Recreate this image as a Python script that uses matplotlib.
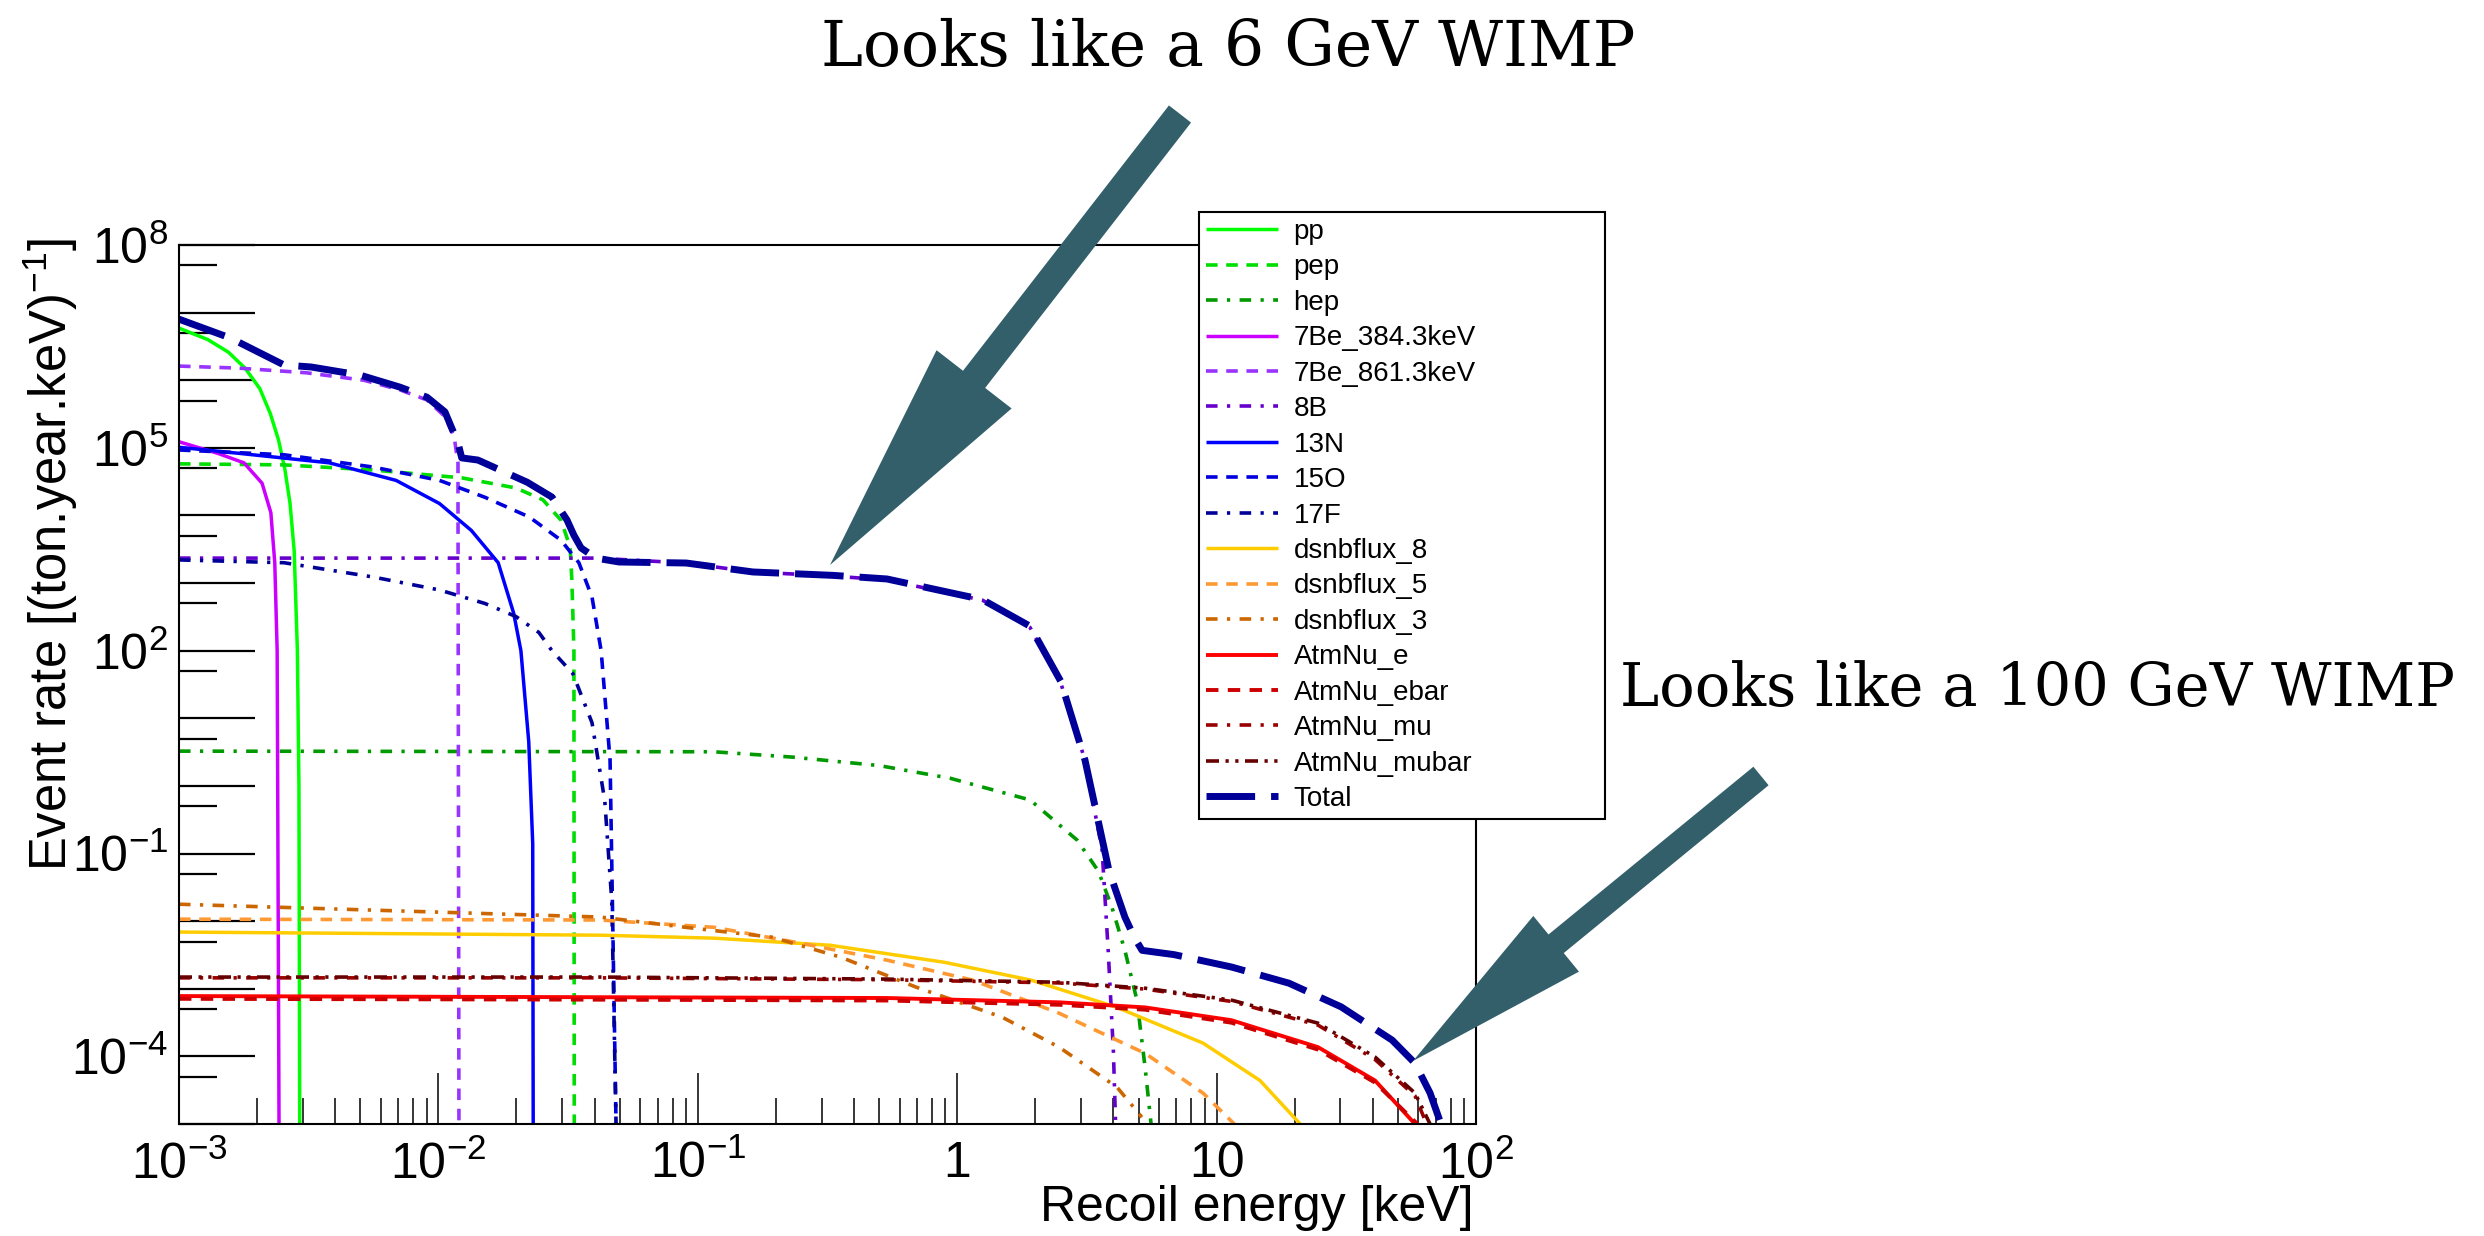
import matplotlib
matplotlib.use('Agg')
import matplotlib.pyplot as plt
import numpy as np
from matplotlib.patches import FancyArrow
from matplotlib.transforms import IdentityTransform
from matplotlib.ticker import FixedLocator, FixedFormatter, NullFormatter

plt.rcParams['font.family'] = ['Liberation Sans', 'DejaVu Sans']
plt.rcParams['mathtext.fontset'] = 'custom'
plt.rcParams['mathtext.rm'] = 'Liberation Sans'
plt.rcParams['mathtext.it'] = 'Liberation Sans:italic'

# recoil energy [keV] / event rate, one pair per flux
pp_x = [1.0e-3, 1.29e-3, 1.55e-3, 1.80e-3, 2.05e-3, 2.25e-3, 2.42e-3, 2.56e-3, 2.68e-3, 2.78e-3,
        2.86e-3, 2.90e-3, 2.92e-3]
pp_y = [5.9e6, 4.0e6, 2.6e6, 1.5e6, 7.5e5, 3.2e5, 1.3e5, 4.8e4, 1.5e4, 3.0e3, 1.0e2, 1.0, 1e-5]

pep_x = [1.0e-3, 2.54e-3, 5.6e-3, 1.23e-2, 1.99e-2, 2.53e-2, 2.97e-2, 3.22e-2, 3.27e-2, 3.33e-2, 3.34e-2]
pep_y = [5.8e4, 5.6e4, 4.7e4, 3.6e4, 2.55e4, 1.7e4, 8.5e3, 3.4e3, 1.1e3, 1.0e2, 1e-5]

hep_x = [1.0e-3, 0.115, 0.231, 0.50, 0.938, 1.91, 2.90, 3.5, 3.95, 4.43, 4.93, 5.30, 5.59]
hep_y = [3.27, 3.2, 2.67, 2.0, 1.3, 0.62, 0.158, 0.055, 0.016, 3.7e-3, 6.8e-4, 6.9e-5, 1e-5]

be384_x = [1.0e-3, 1.41e-3, 1.78e-3, 2.09e-3, 2.26e-3, 2.34e-3, 2.39e-3, 2.43e-3]
be384_y = [1.23e5, 8.3e4, 6.0e4, 3.0e4, 1.1e4, 2.0e3, 1.0e2, 1e-5]

be861_x = [1.0e-3, 1.70e-3, 3.09e-3, 5.16e-3, 7.11e-3, 9.04e-3, 1.06e-2, 1.15e-2, 1.19e-2, 1.19e-2, 1.20e-2]
be861_y = [1.62e6, 1.51e6, 1.29e6, 1.0e6, 7.2e5, 5.1e5, 2.9e5, 1.45e5, 6.0e4, 1.86e4, 1e-5]

b8_x = [1.0e-3, 4.05e-2, 9.0e-2, 0.163, 0.332, 0.536, 1.25, 1.91, 2.51, 3.11, 3.62, 3.82, 4.0, 4.08]
b8_y = [2.34e3, 2.34e3, 1.98e3, 1.46e3, 1.27e3, 1.11e3, 5.6e2, 2.2e2, 33, 2.4, 0.112, 3.7e-3, 1.2e-4, 1e-5]

n13_x = [1.0e-3, 1.70e-3, 3.80e-3, 6.87e-3, 1.01e-2, 1.34e-2, 1.70e-2, 1.95e-2, 2.08e-2, 2.23e-2, 2.31e-2, 2.32e-2]
n13_y = [1.02e5, 8.3e4, 6.0e4, 3.3e4, 1.5e4, 6.0e3, 2.0e3, 3.6e2, 1.0e2, 4.5, 0.14, 1e-5]

o15_x = [1.0e-3, 2.54e-3, 5.6e-3, 1.01e-2, 1.51e-2, 2.24e-2, 2.97e-2, 3.48e-2, 3.91e-2, 4.24e-2, 4.59e-2, 4.84e-2]
o15_y = [9.3e4, 7.9e4, 5.2e4, 3.3e4, 1.86e4, 9.5e3, 4.3e3, 2.0e3, 6.2e2, 1.0e2, 2.4, 1e-5]

f17_x = [1.0e-3, 2.54e-3, 5.6e-3, 1.01e-2, 1.51e-2, 1.99e-2, 2.44e-2, 2.74e-2, 3.30e-2, 3.91e-2, 4.38e-2, 4.66e-2, 4.84e-2]
f17_y = [2.2e3, 2.0e3, 1.23e3, 7.9e2, 5.0e2, 3.2e2, 1.86e2, 1.0e2, 45.7, 8.6, 0.6, 0.02, 1e-5]

dsnb8_x = [1.0e-3, 0.042, 0.116, 0.324, 0.889, 1.93, 4.13, 8.87, 14.7, 21.0]
dsnb8_y = [6.9e-3, 6.2e-3, 5.6e-3, 4.4e-3, 2.47e-3, 1.34e-3, 5.3e-4, 1.57e-4, 4.4e-5, 1e-5]

dsnb5_x = [1.0e-3, 0.042, 0.116, 0.25, 0.536, 1.15, 2.47, 5.3, 8.87, 11.7]
dsnb5_y = [1.07e-2, 1.04e-2, 8.1e-3, 4.7e-3, 2.65e-3, 1.34e-3, 4.35e-4, 1.11e-4, 2.86e-5, 1e-5]

dsnb3_x = [1.0e-3, 0.042, 0.090, 0.193, 0.356, 0.693, 1.49, 2.47, 4.13, 5.15]
dsnb3_y = [1.78e-2, 1.15e-2, 8.1e-3, 5.8e-3, 2.93e-3, 1.06e-3, 3.8e-4, 1.37e-4, 3.5e-5, 1.26e-5]

atm_e_x = [1.0e-3, 0.042, 0.536, 2.47, 5.3, 11.4, 24.6, 40.8, 58.2]
atm_e_y = [7.8e-4, 7.5e-4, 7.3e-4, 6.3e-4, 5.3e-4, 3.43e-4, 1.37e-4, 4.4e-5, 1e-5]

atm_ebar_x = [1.0e-3, 0.042, 0.536, 2.47, 5.3, 11.4, 24.6, 40.8, 59.5]
atm_ebar_y = [7.1e-4, 6.9e-4, 6.7e-4, 5.8e-4, 4.9e-4, 3.15e-4, 1.26e-4, 4.1e-5, 1e-5]

atm_mu_x = [1.0e-3, 0.042, 0.536, 2.47, 5.3, 11.4, 24.6, 40.8, 58.2, 64.5]
atm_mu_y = [1.45e-3, 1.45e-3, 1.36e-3, 1.22e-3, 9.9e-4, 6.5e-4, 2.9e-4, 9.0e-5, 2.6e-5, 1e-5]

atm_mubar_x = [1.0e-3, 0.042, 0.536, 2.47, 5.3, 11.4, 24.6, 40.8, 58.2, 66.5]
atm_mubar_y = [1.49e-3, 1.49e-3, 1.39e-3, 1.25e-3, 1.02e-3, 6.8e-4, 3.1e-4, 9.8e-5, 2.86e-5, 1e-5]

total_x = [1.0e-3, 1.58e-3, 2.54e-3, 3.23e-3, 4.99e-3, 7.11e-3, 9.04e-3, 1.06e-2, 1.19e-2, 1.23e-2,
           1.42e-2, 2.20e-2, 2.74e-2, 3.13e-2, 3.33e-2, 3.55e-2, 4.05e-2, 4.97e-2, 9.02e-2, 0.163,
           0.332, 0.536, 1.25, 1.91, 2.51, 3.11, 3.85, 4.43, 4.81, 5.16, 6.85, 11.4, 19.0, 30.2,
           47.5, 58.2, 66.5, 73.3]
total_y = [8.0e6, 4.2e6, 1.68e6, 1.57e6, 1.19e6, 7.9e5, 5.6e5, 3.4e5, 1.18e5, 7.1e4,
           6.6e4, 3.1e4, 1.87e4, 8.6e3, 5.1e3, 3.3e3, 2.34e3, 2.05e3, 1.98e3, 1.46e3,
           1.3e3, 1.15e3, 5.7e2, 2.3e2, 35, 2.4, 0.055, 0.0115, 5.8e-3, 3.7e-3, 3.2e-3, 2.1e-3,
           1.21e-3, 5.4e-4, 1.74e-4, 7.9e-5, 2.88e-5, 1e-5]

DASH = (0, (3.2, 2.4))
DASHDOT = (0, (3.2, 2.6, 0.9, 2.6))
DASHDOTDOT = (0, (3.6, 1.8, 0.9, 1.8, 0.9, 1.8))

series = [
    ('pp', pp_x, pp_y, '#00ff00', '-', 2.5),
    ('pep', pep_x, pep_y, '#00dd00', DASH, 2.6),
    ('hep', hep_x, hep_y, '#009900', DASHDOT, 2.6),
    ('7Be_384.3keV', be384_x, be384_y, '#cc00ff', '-', 2.5),
    ('7Be_861.3keV', be861_x, be861_y, '#9933ff', DASH, 2.6),
    ('8B', b8_x, b8_y, '#6600cc', DASHDOT, 2.6),
    ('13N', n13_x, n13_y, '#0000ff', '-', 2.5),
    ('15O', o15_x, o15_y, '#0000dd', DASH, 2.6),
    ('17F', f17_x, f17_y, '#000099', DASHDOT, 2.6),
    ('dsnbflux_8', dsnb8_x, dsnb8_y, '#ffcc00', '-', 2.5),
    ('dsnbflux_5', dsnb5_x, dsnb5_y, '#ff9933', DASH, 2.6),
    ('dsnbflux_3', dsnb3_x, dsnb3_y, '#cc6600', DASHDOT, 2.6),
    ('AtmNu_e', atm_e_x, atm_e_y, '#ff0000', '-', 2.8),
    ('AtmNu_ebar', atm_ebar_x, atm_ebar_y, '#cc0000', DASH, 2.8),
    ('AtmNu_mu', atm_mu_x, atm_mu_y, '#990000', DASHDOT, 2.6),
    ('AtmNu_mubar', atm_mubar_x, atm_mubar_y, '#660000', DASHDOTDOT, 2.6),
    ('Total', total_x, total_y, '#000099', (0, (7, 2.3)), 5.0),
]

W, H = 2484, 1236
fig = plt.figure(figsize=(W / 100, H / 100), dpi=100)
ax = fig.add_axes([179 / W, 1 - 1124 / H, (1476 - 179) / W, (1124 - 245) / H])

for name, xs, ys, color, ls, lw in series:
    ax.plot(xs, ys, color=color, linestyle=ls, lw=lw, label=name,
            dash_capstyle='butt', solid_capstyle='butt')

ax.set_xscale('log')
ax.set_yscale('log')
ax.set_xlim(1e-3, 1e2)
ax.set_ylim(1e-5, 1e8)

for s in ax.spines.values():
    s.set_linewidth(1.5)

# x axis ticks
xmaj = [1e-3, 1e-2, 1e-1, 1, 10, 100]
xlab = ['$10^{-3}$', '$10^{-2}$', '$10^{-1}$', '1', '10', '$10^{2}$']
ax.xaxis.set_major_locator(FixedLocator(xmaj))
ax.xaxis.set_major_formatter(FixedFormatter(xlab))
xmin = [m * 10.0 ** e for e in range(-3, 2) for m in range(2, 10)]
ax.xaxis.set_minor_locator(FixedLocator(xmin))
ax.xaxis.set_minor_formatter(NullFormatter())

# y axis ticks
ymaj = [10.0 ** e for e in range(-5, 9)]
ylab = ['$10^{%d}$' % e if e in (8, 5, 2, -1, -4) else '' for e in range(-5, 9)]
ax.yaxis.set_major_locator(FixedLocator(ymaj))
ax.yaxis.set_major_formatter(FixedFormatter(ylab))
ax.yaxis.set_minor_locator(FixedLocator([5 * 10.0 ** e for e in range(-6, 8)]))
ax.yaxis.set_minor_formatter(NullFormatter())

ax.tick_params(axis='x', which='major', direction='in', length=37, width=1.1, labelsize=36, pad=12,
               top=False)
ax.tick_params(axis='x', which='minor', direction='in', length=19, width=1.1, top=False)
ax.tick_params(axis='y', which='major', direction='in', length=55, width=1.6, labelsize=36, pad=8,
               right=False)
ax.tick_params(axis='y', which='minor', direction='in', length=27, width=1.6, right=False)

ax.set_xlabel('Recoil energy [keV]', fontsize=36, loc='right')
ax.xaxis.set_label_coords(0.998, -0.069)
ax.set_ylabel('Event rate [(ton.year.keV)$^{-1}$]', fontsize=36.5, loc='top')
ax.yaxis.set_label_coords(-0.076, 1.008)

leg = fig.legend(loc='upper left', bbox_to_anchor=(1199 / W, 1 - 819 / H, 406 / W, (819 - 212) / H),
                 mode='expand', fontsize=20, frameon=True, fancybox=False, framealpha=1,
                 edgecolor='black', handlelength=2.6, handletextpad=0.55, labelspacing=0.34,
                 borderpad=0.25, borderaxespad=0)
leg.get_frame().set_linewidth(1.5)

# annotations and arrows
arrow_col = '#335f6b'
fig.text(1228 / W, 1 - 48 / H, 'Looks like a 6 GeV WIMP', family='DejaVu Serif', fontsize=45.5,
         ha='center', va='center')
fig.text(2038 / W, 1 - 689 / H, 'Looks like a 100 GeV WIMP', family='DejaVu Serif', fontsize=42.5,
         ha='center', va='center')
fig.add_artist(FancyArrow(1180, H - 114, -350, -451, width=28, head_width=95, head_length=235,
                          length_includes_head=True, color=arrow_col, lw=0,
                          transform=IdentityTransform()))
fig.add_artist(FancyArrow(1761, H - 776, -348, -285, width=24, head_width=72, head_length=185,
                          length_includes_head=True, color=arrow_col, lw=0,
                          transform=IdentityTransform()))

fig.savefig('out.png', dpi=100)
